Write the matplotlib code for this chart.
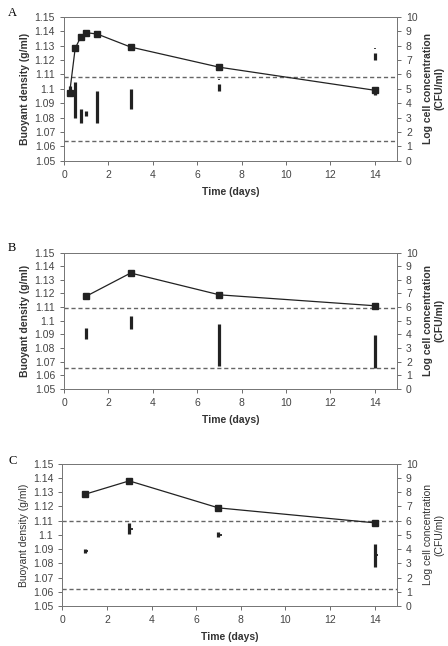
import matplotlib.pyplot as plt
import numpy as np

plt.rcParams['font.family'] = ['Liberation Sans', 'DejaVu Sans']

# Panel A
a_days = [0.25, 0.5, 0.75, 1, 1.5, 3, 7, 14]
a_log = [4.7, 7.8, 8.6, 8.9, 8.8, 7.9, 6.5, 4.9]
a_bar_days = [0.25, 0.5, 0.75, 1, 1.5, 3, 7, 14, 14]
a_bar_low = [1.097, 1.080, 1.0765, 1.081, 1.0765, 1.086, 1.0985, 1.120, 1.096]
a_bar_high = [1.102, 1.1045, 1.086, 1.0845, 1.0985, 1.100, 1.1035, 1.125, 1.1015]
a_dot_days = [7, 14]
a_dot = [1.1065, 1.128]
a_ref = [1.108, 1.064]

# Panel B
b_days = [1, 3, 7, 14]
b_log = [6.8, 8.5, 6.9, 6.1]
b_bar_days = [1, 3, 7, 14]
b_bar_low = [1.0865, 1.0937, 1.0667, 1.065]
b_bar_high = [1.0944, 1.1035, 1.0976, 1.0895]
b_ref = [1.109, 1.065]

# Panel C
c_days = [1, 3, 7, 14]
c_log = [7.85, 8.8, 6.9, 5.85]
c_bar_days = [1, 3, 7, 14]
c_bar_low = [1.0875, 1.1005, 1.0985, 1.0775]
c_bar_high = [1.0900, 1.1083, 1.1018, 1.0935]
c_ref = [1.1095, 1.062]

panels = [
    ('A', a_days, a_log, a_bar_days, a_bar_low, a_bar_high, a_ref, True,
     [0.143, 0.751, 0.743, 0.223], 0.989),
    ('B', b_days, b_log, b_bar_days, b_bar_low, b_bar_high, b_ref, True,
     [0.143, 0.398, 0.743, 0.211], 0.626),
    ('C', c_days, c_log, c_bar_days, c_bar_low, c_bar_high, c_ref, False,
     [0.139, 0.062, 0.747, 0.220], 0.296),
]

fig = plt.figure(figsize=(4.48, 6.46), dpi=100)
grey = '#555555'

for letter, days, logc, bdays, blow, bhigh, ref, bold, rect, ly in panels:
    ax = fig.add_axes(rect)
    ax.set_xlim(0, 15)
    ax.set_ylim(1.05, 1.15)
    ax.set_xticks(np.arange(0, 15, 2))
    ax.set_yticks(np.arange(1.05, 1.151, 0.01))
    ax.set_yticklabels(['%g' % round(v, 2) for v in np.arange(1.05, 1.151, 0.01)])
    for r in ref:
        ax.axhline(r, color='#666666', lw=1.0, ls=(0, (3, 2)))
    ax.vlines(bdays, blow, bhigh, color='#222222', lw=2.3)
    if letter == 'A':
        ax.vlines(a_dot_days, np.array(a_dot) - 0.0007, np.array(a_dot) + 0.0003,
                  color='#222222', lw=1.2)
    if letter == 'C':
        mids = (np.array(blow) + np.array(bhigh)) / 2
        ax.plot(np.array(bdays) + 0.06, mids, ls='none', marker='_', ms=2.5,
                mew=1.3, color='#222222')
    w = 'bold' if bold else 'normal'
    ax.set_ylabel('Buoyant density (g/ml)', fontsize=7.5, fontweight=w,
                  color='#333333', labelpad=3)
    ax.set_xlabel('Time (days)', fontsize=7.5, fontweight='bold',
                  color='#333333', labelpad=5)
    ax.tick_params(labelsize=7.5, colors=grey, length=3, width=0.6,
                   labelcolor='#444444')

    ax2 = ax.twinx()
    ax2.set_ylim(0, 10)
    ax2.set_yticks(range(0, 11))
    ax2.plot(days, logc, color='#222222', lw=0.9, marker='s', ms=5,
             mfc='#222222', mec='#222222', zorder=5)
    ax2.set_ylabel('Log cell concentration\n(CFU/ml)', fontsize=7.5,
                   fontweight=w, color='#333333', labelpad=4)
    ax2.tick_params(labelsize=7.5, colors=grey, length=3, width=0.6,
                    labelcolor='#444444')
    for a in (ax, ax2):
        for s in a.spines.values():
            s.set_color('#777777')
            s.set_linewidth(0.7)

    fig.text(0.018, ly, letter, fontsize=9, family='Liberation Serif',
             va='top', ha='left')

fig.savefig('out.png', dpi=100)
